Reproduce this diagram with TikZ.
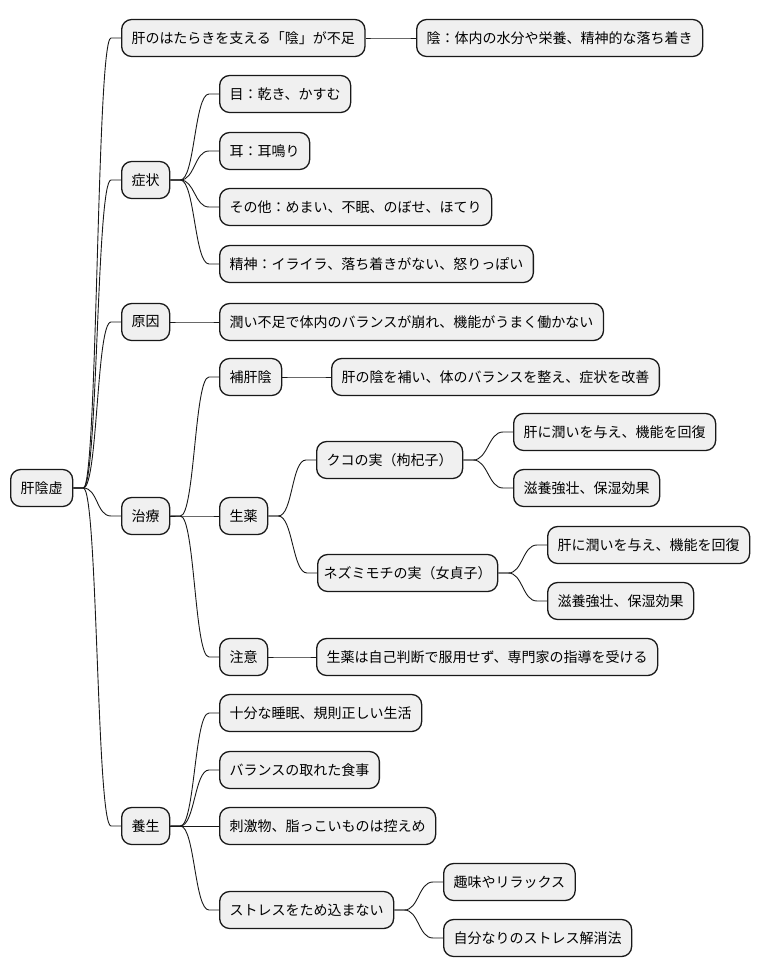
\documentclass[tikz,border=0pt]{standalone}
\usepackage{fontspec}
\setmainfont{Noto Sans CJK JP}
\begin{document}
\begin{tikzpicture}[x=1pt,y=-1pt,
  box/.style={draw=black!90, line width=1.3pt, fill=black!6, rounded corners=10pt,
    minimum height=37pt, inner xsep=10pt, inner ysep=0pt, anchor=west,
    font=\fontsize{14}{16}\selectfont},
  edge/.style={draw=black!90, line width=0.9pt}]
\useasboundingbox (0,0) rectangle (760,978);
\newcommand\mmconn[2]{\draw[edge] (#1.east) -- ([xshift=10pt]#1.east) .. controls ([xshift=24.5pt]#1.east) and ([xshift=-24.5pt]#2.west) .. ([xshift=-10pt]#2.west) -- (#2.west);}
\node[box] (r) at (10,488) {肝陰虚};
\node[box] (a1) at (121,38) {肝のはたらきを支える「陰」が不足};
\node[box] (a2) at (416,38) {陰：体内の水分や栄養、精神的な落ち着き};
\node[box] (s) at (121,180) {症状};
\node[box] (s1) at (219,94) {目：乾き、かすむ};
\node[box] (s2) at (219,151) {耳：耳鳴り};
\node[box] (s3) at (219,207) {その他：めまい、不眠、のぼせ、ほてり};
\node[box] (s4) at (219,264) {精神：イライラ、落ち着きがない、怒りっぽい};
\node[box] (g) at (121,322) {原因};
\node[box] (g1) at (219,322) {潤い不足で体内のバランスが崩れ、機能がうまく働かない};
\node[box] (t) at (121,516) {治療};
\node[box] (t1) at (219,377) {補肝陰};
\node[box] (t1a) at (331,377) {肝の陰を補い、体のバランスを整え、症状を改善};
\node[box] (t2) at (219,516) {生薬};
\node[box] (k) at (316,460) {クコの実（枸杞子）};
\node[box] (k1) at (513,432) {肝に潤いを与え、機能を回復};
\node[box] (k2) at (513,488) {滋養強壮、保湿効果};
\node[box, inner xsep=6pt] (n) at (317,573) {ネズミモチの実（女貞子）};
\node[box] (n1) at (547,545) {肝に潤いを与え、機能を回復};
\node[box] (n2) at (547,601) {滋養強壮、保湿効果};
\node[box] (t3) at (219,657) {注意};
\node[box] (t3a) at (316,657) {生薬は自己判断で服用せず、専門家の指導を受ける};
\node[box] (y) at (121,826) {養生};
\node[box] (y1) at (219,713) {十分な睡眠、規則正しい生活};
\node[box] (y2) at (219,770) {バランスの取れた食事};
\node[box] (y3) at (219,826) {刺激物、脂っこいものは控えめ};
\node[box] (y4) at (219,910) {ストレスをため込まない};
\node[box] (y4a) at (443,882) {趣味やリラックス};
\node[box] (y4b) at (443,938) {自分なりのストレス解消法};
\mmconn{r}{a1}\mmconn{r}{s}\mmconn{r}{g}\mmconn{r}{t}\mmconn{r}{y}
\mmconn{a1}{a2}
\mmconn{s}{s1}\mmconn{s}{s2}\mmconn{s}{s3}\mmconn{s}{s4}
\mmconn{g}{g1}
\mmconn{t}{t1}\mmconn{t}{t2}\mmconn{t}{t3}
\mmconn{t1}{t1a}
\mmconn{t2}{k}\mmconn{t2}{n}
\mmconn{k}{k1}\mmconn{k}{k2}
\mmconn{n}{n1}\mmconn{n}{n2}
\mmconn{t3}{t3a}
\mmconn{y}{y1}\mmconn{y}{y2}\mmconn{y}{y3}\mmconn{y}{y4}
\mmconn{y4}{y4a}\mmconn{y4}{y4b}
\end{tikzpicture}
\end{document}
